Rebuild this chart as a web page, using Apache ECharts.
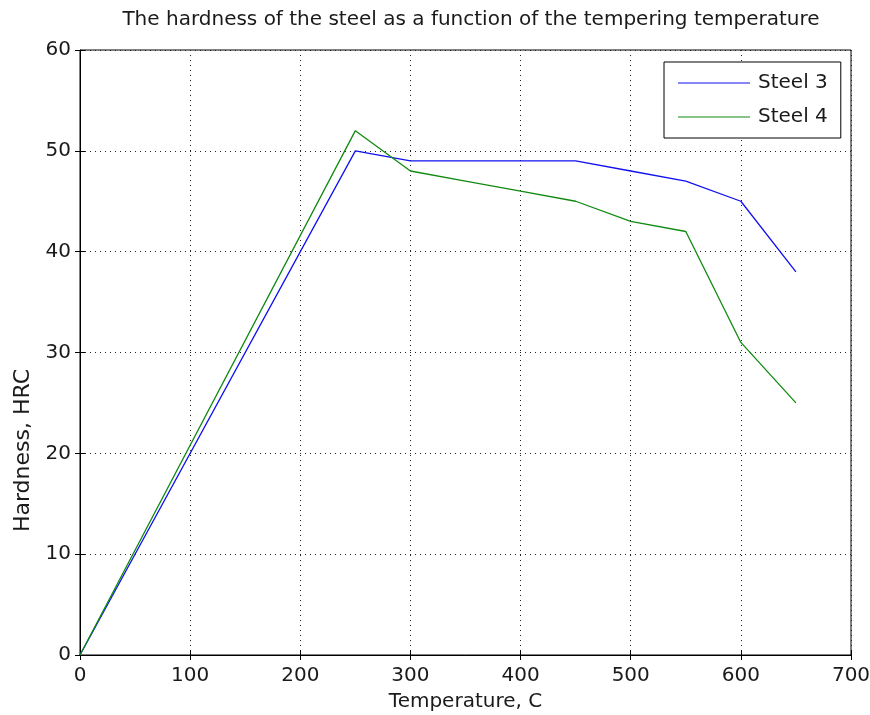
<!DOCTYPE html>
<html>
<head>
<meta charset="utf-8">
<script src="https://cdn.jsdelivr.net/npm/echarts@6/dist/echarts.min.js"></script>
<style>
    html, body { margin: 0; padding: 0; background: #fff; }
    #chart { width: 870px; height: 715px; }
</style>
</head>
<body>
<div id="chart"></div>
<script>
    const temperatures = [0, 250, 300, 350, 400, 450, 500, 550, 600, 650];
    const steel3 = [0, 50, 49, 49, 49, 49, 48, 47, 45, 38];
    const steel4 = [0, 52, 48, 47, 46, 45, 43, 42, 31, 25];
    const seriesNames = ['Steel 3', 'Steel 4'];
    const seriesColors = ['#1010f0', '#108a10'];

    const FONT = 'DejaVu Sans';
    const TEXT_COLOR = '#1a1a1a';

    const toPairs = values => values.map((v, i) => [temperatures[i], v]);

    const hiddenAxis = {
        axisLine: { show: false },
        axisLabel: { show: false },
        splitLine: { show: false },
        axisTick: { show: true, inside: true, length: 5, lineStyle: { color: '#000' } },
    };

    const chart = echarts.init(document.getElementById('chart'));
    chart.setOption({
        animation: false,
        backgroundColor: '#fff',
        title: {
            text: 'The hardness of the steel as a function of the tempering temperature',
            left: 466,
            top: 5,
            textAlign: 'center',
            textStyle: { fontFamily: FONT, fontSize: 20, fontWeight: 'normal', color: TEXT_COLOR },
        },
        legend: {
            data: seriesNames,
            orient: 'vertical',
            left: 664,
            top: 62,
            padding: [11, 13, 11, 14],
            icon: 'rect',
            itemWidth: 72,
            itemHeight: 1.2,
            itemGap: 14,
            borderColor: '#000',
            borderWidth: 1,
            backgroundColor: '#fff',
            textStyle: { fontFamily: FONT, fontSize: 20, color: TEXT_COLOR, padding: [0, 0, 0, 3] },
        },
        grid: {
            left: 80,
            top: 50,
            right: 19,
            bottom: 60,
            outerBoundsMode: 'none',
            show: true,
            borderColor: '#000',
            borderWidth: 1,
            backgroundColor: '#fff',
        },
        xAxis: [
            {
                type: 'value',
                min: 0,
                max: 700,
                interval: 100,
                name: 'Temperature, C',
                nameLocation: 'middle',
                nameGap: 37,
                nameTextStyle: { fontFamily: FONT, fontSize: 20, color: TEXT_COLOR },
                axisLine: { show: true, lineStyle: { color: '#000' } },
                axisTick: { show: true, inside: true, length: 5, lineStyle: { color: '#000' } },
                axisLabel: { fontFamily: FONT, fontSize: 20, color: TEXT_COLOR, margin: 11 },
                splitLine: { show: true, lineStyle: { color: '#222', type: [1, 4], width: 1 } },
            },
            { type: 'value', position: 'top', min: 0, max: 700, interval: 100, ...hiddenAxis },
        ],
        yAxis: [
            {
                type: 'value',
                min: 0,
                max: 60,
                interval: 10,
                name: 'Hardness, HRC',
                nameLocation: 'middle',
                nameGap: 46,
                // the label sits below the middle of the axis in the original
                nameTextStyle: { fontFamily: FONT, fontSize: 22, color: TEXT_COLOR, padding: [0, 196, 0, 0] },
                axisLine: { show: true, lineStyle: { color: '#000' } },
                axisTick: { show: true, inside: true, length: 5, lineStyle: { color: '#000' } },
                axisLabel: { fontFamily: FONT, fontSize: 20, color: TEXT_COLOR, margin: 9 },
                splitLine: { show: true, lineStyle: { color: '#222', type: [1, 4], width: 1 } },
            },
            { type: 'value', position: 'right', min: 0, max: 60, interval: 10, ...hiddenAxis },
        ],
        series: [
            {
                name: seriesNames[0],
                type: 'line',
                data: toPairs(steel3),
                symbol: 'none',
                lineStyle: { color: seriesColors[0], width: 1.3 },
                itemStyle: { color: seriesColors[0] },
            },
            {
                name: seriesNames[1],
                type: 'line',
                data: toPairs(steel4),
                symbol: 'none',
                lineStyle: { color: seriesColors[1], width: 1.3 },
                itemStyle: { color: seriesColors[1] },
            },
        ],
    });
</script>
</body>
</html>
